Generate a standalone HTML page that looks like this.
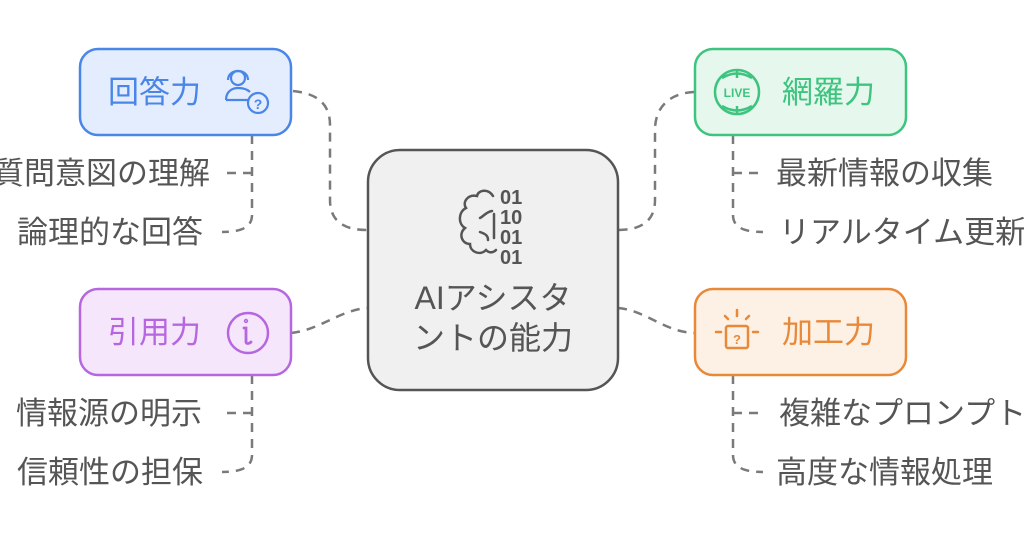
<!DOCTYPE html>
<html><head><meta charset="utf-8"><style>
html,body{margin:0;padding:0;background:#fff;width:1024px;height:539px;overflow:hidden}
svg text{font-family:"Liberation Sans","Noto Sans CJK JP",sans-serif}
</style></head><body>
<svg width="1024" height="539" viewBox="0 0 1024 539" xmlns="http://www.w3.org/2000/svg">
<g fill="none" stroke="#7a7a7a" stroke-width="2.5" stroke-dasharray="9,7" stroke-linecap="butt">
 <path d="M293 91 C312 93 330 100 330 125 L330 200 C330 222 345 230 367 230"/>
 <path d="M291 333 C320 330 340 310 367 308"/>
 <path d="M694 92 C672 93 655 105 655 130 L655 200 C655 222 640 230 618 230"/>
 <path d="M618 308 C645 310 665 332 694 333"/>
 <path d="M252 135 L252 215 C252 228 240 232 222 232"/>
 <path d="M252 173 L222 173"/>
 <path d="M252 375 L252 455 C252 468 240 472 222 472"/>
 <path d="M252 413 L222 413"/>
 <path d="M733 135 L733 215 C733 228 745 232 763 232"/>
 <path d="M733 173 L763 173"/>
 <path d="M733 375 L733 455 C733 468 745 472 763 472"/>
 <path d="M733 413 L763 413"/>
</g>
<rect x="368" y="150" width="250" height="240" rx="32" fill="#f0f0f0" stroke="#555" stroke-width="2.5"/>
<g fill="none" stroke="#555" stroke-width="2.5" stroke-linecap="round">
 <path d="M493 196 C488 188 478 190 477 196 C468 194 462 202 466 208 C458 212 458 224 465 228 C458 234 462 244 470 244 C470 252 480 256 486 250 C490 254 494 252 496 250"/>
 <path d="M492 211 C486 212 484 216 480 218"/>
 <path d="M480 232 C486 234 488 236 488 240"/>
 <path d="M494 214 L494 238"/>
</g>
<g font-family="Liberation Mono,monospace" font-size="20" font-weight="bold" fill="#555">
 <text x="500" y="204">01</text><text x="500" y="224">10</text><text x="500" y="244">01</text><text x="500" y="264">01</text>
</g>
<text x="493" y="309" font-size="32" fill="#555" text-anchor="middle">AIアシスタ</text>
<text x="493" y="349" font-size="32" fill="#555" text-anchor="middle">ントの能力</text>

<rect x="80" y="49" width="211" height="86" rx="18" fill="#e3edfd" stroke="#4a86e8" stroke-width="2.5"/>
<text x="108" y="103" font-size="31" fill="#4a86e8">回答力</text>
<g fill="none" stroke="#4a86e8" stroke-width="2.2">
 <circle cx="238" cy="78" r="7"/><path d="M228 80 C228 68 248 68 248 80"/>
 <path d="M226 100 C226 90 234 88 238 88 C244 88 248 90 250 92 M226 100 L248 100"/>
 <circle cx="258" cy="103" r="10" fill="#e3edfd"/>
</g>
<text x="258" y="109" font-size="14" font-weight="bold" fill="#4a86e8" text-anchor="middle">?</text>

<rect x="80" y="289" width="211" height="86" rx="18" fill="#f6e6fc" stroke="#b667e0" stroke-width="2.5"/>
<text x="108" y="343" font-size="31" fill="#b667e0">引用力</text>
<circle cx="248" cy="333" r="20" fill="none" stroke="#b667e0" stroke-width="2.5"/>
<g fill="none" stroke="#b667e0" stroke-width="2.8" stroke-linecap="round"><path d="M244 328 L246 328 L246 342 C246 344 249 344 251 342"/><circle cx="246" cy="321" r="0.8"/></g>

<rect x="695" y="49" width="211" height="86" rx="18" fill="#e6f8ee" stroke="#3ec47f" stroke-width="2.5"/>
<text x="782" y="103" font-size="31" fill="#3ec47f">網羅力</text>
<g fill="none" stroke="#3ec47f" stroke-width="2.5">
 <circle cx="737" cy="92" r="22"/>
 <path d="M722 78 C732 72 742 72 752 78 M722 106 C732 112 742 112 752 106 M737 70 L737 78 M737 106 L737 114"/>
</g>
<text x="737" y="97" font-size="12" font-weight="bold" fill="#3ec47f" text-anchor="middle">LIVE</text>

<rect x="695" y="289" width="211" height="86" rx="18" fill="#fdf0e4" stroke="#e8893a" stroke-width="2.5"/>
<text x="782" y="343" font-size="31" fill="#e8893a">加工力</text>
<g fill="none" stroke="#e8893a" stroke-width="2.5" stroke-linecap="round">
 <rect x="726" y="326" width="22" height="22" rx="2"/>
 <path d="M737 310 L737 316 M725 316 L728 319 M749 316 L746 319 M716 332 L721 332 M753 332 L758 332"/>
</g>
<text x="737" y="344" font-size="13" font-weight="bold" fill="#e8893a" text-anchor="middle">?</text>

<g font-size="31" fill="#555">
 <text x="210" y="184" text-anchor="end">質問意図の理解</text>
 <text x="203" y="243" text-anchor="end">論理的な回答</text>
 <text x="202" y="424" text-anchor="end">情報源の明示</text>
 <text x="203" y="483" text-anchor="end">信頼性の担保</text>
 <text x="776" y="184">最新情報の収集</text>
 <text x="779" y="243">リアルタイム更新</text>
 <text x="779" y="424">複雑なプロンプト</text>
 <text x="776" y="483">高度な情報処理</text>
</g>
</svg>
</body></html>
